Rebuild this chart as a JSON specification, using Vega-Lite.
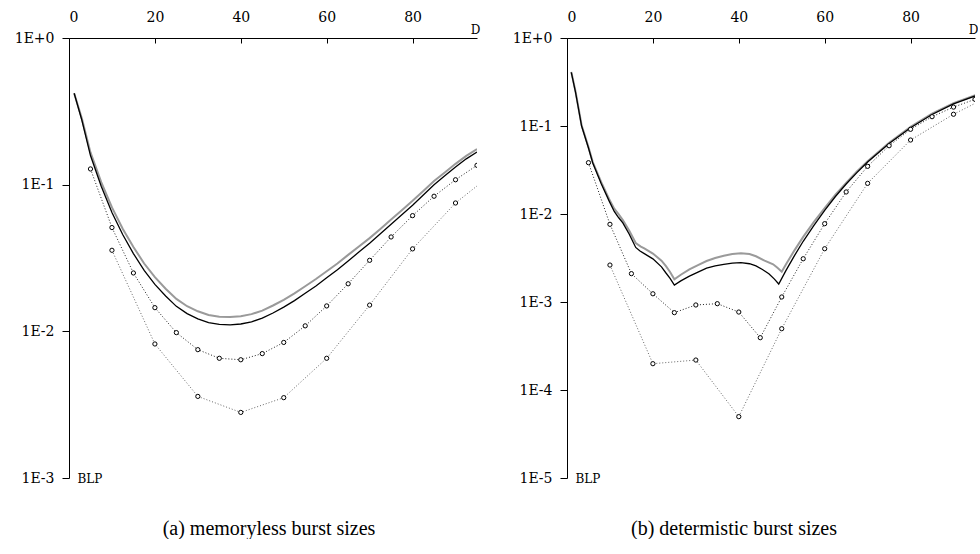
{
  "$schema": "https://vega.github.io/schema/vega-lite/v6.json",
  "background": "white",
  "padding": {"left": 14, "top": 10, "right": 0, "bottom": 0},
  "spacing": 90,
  "bounds": "flush",
  "datasets": {
    "a": [
      {"s":"black","x":1.2,"y":0.42},{"s":"black","x":3,"y":0.275},{"s":"black","x":5,"y":0.158},{"s":"black","x":7.5,"y":0.0977},{"s":"black","x":10,"y":0.0646},{"s":"black","x":12.5,"y":0.0457},{"s":"black","x":15,"y":0.0339},{"s":"black","x":17.5,"y":0.026},{"s":"black","x":20,"y":0.0209},{"s":"black","x":22.5,"y":0.0174},{"s":"black","x":25,"y":0.0148},{"s":"black","x":27.5,"y":0.0132},{"s":"black","x":30,"y":0.01216},{"s":"black","x":32.5,"y":0.01148},{"s":"black","x":35,"y":0.01114},{"s":"black","x":37.5,"y":0.01107},{"s":"black","x":40,"y":0.01122},{"s":"black","x":42.5,"y":0.01161},{"s":"black","x":45,"y":0.0123},{"s":"black","x":47.5,"y":0.01334},{"s":"black","x":50,"y":0.01462},{"s":"black","x":52.5,"y":0.0162},{"s":"black","x":55,"y":0.0182},{"s":"black","x":57.5,"y":0.0204},{"s":"black","x":60,"y":0.0232},{"s":"black","x":62.5,"y":0.0263},{"s":"black","x":65,"y":0.0302},{"s":"black","x":67.5,"y":0.0347},{"s":"black","x":70,"y":0.0398},{"s":"black","x":72.5,"y":0.0462},{"s":"black","x":75,"y":0.0537},{"s":"black","x":77.5,"y":0.0624},{"s":"black","x":80,"y":0.0724},{"s":"black","x":82.5,"y":0.0851},{"s":"black","x":85,"y":0.1},{"s":"black","x":87.5,"y":0.115},{"s":"black","x":90,"y":0.132},{"s":"black","x":92.5,"y":0.15},{"s":"black","x":95,"y":0.167},
      {"s":"gray","x":1.2,"y":0.42},{"s":"gray","x":3,"y":0.282},{"s":"gray","x":5,"y":0.166},{"s":"gray","x":7.5,"y":0.104},{"s":"gray","x":10,"y":0.07},{"s":"gray","x":12.5,"y":0.0501},{"s":"gray","x":15,"y":0.0376},{"s":"gray","x":17.5,"y":0.029},{"s":"gray","x":20,"y":0.0234},{"s":"gray","x":22.5,"y":0.0195},{"s":"gray","x":25,"y":0.01663},{"s":"gray","x":27.5,"y":0.01483},{"s":"gray","x":30,"y":0.0137},{"s":"gray","x":32.5,"y":0.01294},{"s":"gray","x":35,"y":0.01259},{"s":"gray","x":37.5,"y":0.0125},{"s":"gray","x":40,"y":0.01268},{"s":"gray","x":42.5,"y":0.0131},{"s":"gray","x":45,"y":0.01384},{"s":"gray","x":47.5,"y":0.015},{"s":"gray","x":50,"y":0.0164},{"s":"gray","x":52.5,"y":0.01816},{"s":"gray","x":55,"y":0.0203},{"s":"gray","x":57.5,"y":0.02275},{"s":"gray","x":60,"y":0.0257},{"s":"gray","x":62.5,"y":0.029},{"s":"gray","x":65,"y":0.0332},{"s":"gray","x":67.5,"y":0.0379},{"s":"gray","x":70,"y":0.0432},{"s":"gray","x":72.5,"y":0.0499},{"s":"gray","x":75,"y":0.0578},{"s":"gray","x":77.5,"y":0.067},{"s":"gray","x":80,"y":0.0776},{"s":"gray","x":82.5,"y":0.0906},{"s":"gray","x":85,"y":0.106},{"s":"gray","x":87.5,"y":0.121},{"s":"gray","x":90,"y":0.1387},{"s":"gray","x":92.5,"y":0.157},{"s":"gray","x":95,"y":0.175},
      {"s":"sim1","x":5,"y":0.128},{"s":"sim1","x":10,"y":0.051},{"s":"sim1","x":15,"y":0.025},{"s":"sim1","x":20,"y":0.0145},{"s":"sim1","x":25,"y":0.0098},{"s":"sim1","x":30,"y":0.0075},{"s":"sim1","x":35,"y":0.00655},{"s":"sim1","x":40,"y":0.0064},{"s":"sim1","x":45,"y":0.00705},{"s":"sim1","x":50,"y":0.0084},{"s":"sim1","x":55,"y":0.0109},{"s":"sim1","x":60,"y":0.0149},{"s":"sim1","x":65,"y":0.0211},{"s":"sim1","x":70,"y":0.0305},{"s":"sim1","x":75,"y":0.044},{"s":"sim1","x":80,"y":0.0615},{"s":"sim1","x":85,"y":0.0834},{"s":"sim1","x":90,"y":0.108},{"s":"sim1","x":95,"y":0.1355},
      {"s":"sim2","x":10,"y":0.0357},{"s":"sim2","x":20,"y":0.0082},{"s":"sim2","x":30,"y":0.0036},{"s":"sim2","x":40,"y":0.0028},{"s":"sim2","x":50,"y":0.00353},{"s":"sim2","x":60,"y":0.00655},{"s":"sim2","x":70,"y":0.0151},{"s":"sim2","x":80,"y":0.0365},{"s":"sim2","x":90,"y":0.075},{"s":"sim2","x":100,"y":0.128}
    ],
    "b": [
      {"s":"black","x":1,"y":0.407},{"s":"black","x":2,"y":0.24},{"s":"black","x":3.4,"y":0.1},{"s":"black","x":5,"y":0.0562},{"s":"black","x":6,"y":0.038},{"s":"black","x":8,"y":0.0219},{"s":"black","x":9.8,"y":0.0141},{"s":"black","x":11,"y":0.0107},{"s":"black","x":12,"y":0.00912},{"s":"black","x":13,"y":0.00794},{"s":"black","x":14.5,"y":0.00589},{"s":"black","x":16,"y":0.00417},{"s":"black","x":17,"y":0.0038},{"s":"black","x":18,"y":0.00355},{"s":"black","x":20,"y":0.00309},{"s":"black","x":22,"y":0.00251},{"s":"black","x":23,"y":0.00215},{"s":"black","x":24,"y":0.00186},{"s":"black","x":25,"y":0.00156},{"s":"black","x":26.5,"y":0.00174},{"s":"black","x":28.5,"y":0.00197},{"s":"black","x":30.5,"y":0.00219},{"s":"black","x":32.5,"y":0.00242},{"s":"black","x":34.5,"y":0.00257},{"s":"black","x":36.5,"y":0.00268},{"s":"black","x":38.5,"y":0.00277},{"s":"black","x":40.5,"y":0.0028},{"s":"black","x":42.5,"y":0.00272},{"s":"black","x":44,"y":0.00257},{"s":"black","x":45.5,"y":0.00234},{"s":"black","x":47,"y":0.00209},{"s":"black","x":48.3,"y":0.00182},{"s":"black","x":49.3,"y":0.0016},{"s":"black","x":51,"y":0.00229},{"s":"black","x":53,"y":0.00339},{"s":"black","x":55,"y":0.0049},{"s":"black","x":57.5,"y":0.00741},{"s":"black","x":60,"y":0.011},{"s":"black","x":62.5,"y":0.0158},{"s":"black","x":65,"y":0.0219},{"s":"black","x":67.5,"y":0.0295},{"s":"black","x":70,"y":0.0389},{"s":"black","x":75,"y":0.0631},{"s":"black","x":80,"y":0.0955},{"s":"black","x":85,"y":0.135},{"s":"black","x":90,"y":0.178},{"s":"black","x":96,"y":0.229},
      {"s":"gray","x":1,"y":0.412},{"s":"gray","x":2,"y":0.245},{"s":"gray","x":3.4,"y":0.102},{"s":"gray","x":5,"y":0.0575},{"s":"gray","x":6,"y":0.0389},{"s":"gray","x":8,"y":0.0229},{"s":"gray","x":9.8,"y":0.0148},{"s":"gray","x":11,"y":0.0115},{"s":"gray","x":12,"y":0.01},{"s":"gray","x":13,"y":0.00851},{"s":"gray","x":14.5,"y":0.00646},{"s":"gray","x":16,"y":0.00468},{"s":"gray","x":17.2,"y":0.00427},{"s":"gray","x":18,"y":0.00407},{"s":"gray","x":20,"y":0.00355},{"s":"gray","x":22,"y":0.00295},{"s":"gray","x":23,"y":0.00257},{"s":"gray","x":24,"y":0.00219},{"s":"gray","x":25,"y":0.00181},{"s":"gray","x":26.5,"y":0.00204},{"s":"gray","x":28.5,"y":0.00235},{"s":"gray","x":30.5,"y":0.00263},{"s":"gray","x":32.5,"y":0.00292},{"s":"gray","x":34.5,"y":0.00316},{"s":"gray","x":36.5,"y":0.00335},{"s":"gray","x":38.5,"y":0.00351},{"s":"gray","x":40.5,"y":0.00357},{"s":"gray","x":42.5,"y":0.00351},{"s":"gray","x":44,"y":0.00331},{"s":"gray","x":46,"y":0.00295},{"s":"gray","x":48,"y":0.00268},{"s":"gray","x":49,"y":0.00245},{"s":"gray","x":50,"y":0.00221},{"s":"gray","x":51,"y":0.00269},{"s":"gray","x":53,"y":0.00389},{"s":"gray","x":55,"y":0.0055},{"s":"gray","x":57.5,"y":0.00813},{"s":"gray","x":60,"y":0.0117},{"s":"gray","x":62.5,"y":0.0166},{"s":"gray","x":65,"y":0.0226},{"s":"gray","x":67.5,"y":0.0305},{"s":"gray","x":70,"y":0.0398},{"s":"gray","x":75,"y":0.0646},{"s":"gray","x":80,"y":0.0977},{"s":"gray","x":85,"y":0.138},{"s":"gray","x":90,"y":0.182},{"s":"gray","x":96,"y":0.232},
      {"s":"sim1","x":5,"y":0.0383},{"s":"sim1","x":10,"y":0.00764},{"s":"sim1","x":15,"y":0.0021},{"s":"sim1","x":20,"y":0.00124},{"s":"sim1","x":25,"y":0.000757},{"s":"sim1","x":30,"y":0.000925},{"s":"sim1","x":35,"y":0.000957},{"s":"sim1","x":40,"y":0.000769},{"s":"sim1","x":45,"y":0.000393},{"s":"sim1","x":50,"y":0.00114},{"s":"sim1","x":55,"y":0.0031},{"s":"sim1","x":60,"y":0.00776},{"s":"sim1","x":65,"y":0.0178},{"s":"sim1","x":70,"y":0.0348},{"s":"sim1","x":75,"y":0.0597},{"s":"sim1","x":80,"y":0.0917},{"s":"sim1","x":85,"y":0.1276},{"s":"sim1","x":90,"y":0.164},{"s":"sim1","x":95,"y":0.201},
      {"s":"sim2","x":10,"y":0.00263},{"s":"sim2","x":20,"y":0.000199},{"s":"sim2","x":30,"y":0.000219},{"s":"sim2","x":40,"y":0.0000498},{"s":"sim2","x":50,"y":0.000497},{"s":"sim2","x":60,"y":0.00403},{"s":"sim2","x":70,"y":0.0223},{"s":"sim2","x":80,"y":0.0693},{"s":"sim2","x":90,"y":0.136},{"s":"sim2","x":100,"y":0.24}
    ]
  },
  "hconcat": [
    {
      "width": 408, "height": 440,
      "data": {"name": "a"},
      "title": {"text": "(a) memoryless burst sizes", "orient": "bottom", "anchor": "middle", "offset": 34, "dx": -4},
      "encoding": {
        "x": {"field": "x", "type": "quantitative", "scale": {"domain": [0, 95], "nice": false, "zero": false},
              "axis": {"orient": "top", "values": [0, 20, 40, 60, 80], "tickSize": -5, "labelPadding": 19, "title": "D", "titleX": 406, "titleY": -5, "titleAlign": "center", "titleBaseline": "alphabetic", "titleAngle": 0}},
        "y": {"field": "y", "type": "quantitative", "scale": {"type": "log", "domain": [0.001, 1], "nice": false},
              "axis": {"values": [1, 0.1, 0.01, 0.001], "labelExpr": "datum.value >= 1 ? '1E+0' : '1E' + round(log(datum.value)/LN10)", "tickSize": 7, "labelPadding": 8, "title": "BLP", "titleAngle": 0, "titleX": 8, "titleY": 440, "titleAlign": "left", "titleBaseline": "middle"}}
      },
      "layer": [
        {"transform": [{"filter": "datum.s == 'sim2'"}], "mark": {"type": "line", "clip": true, "color": "#666666", "strokeWidth": 1, "strokeDash": [1, 2]}},
        {"transform": [{"filter": "datum.s == 'sim1'"}], "mark": {"type": "line", "clip": true, "color": "#222222", "strokeWidth": 1, "strokeDash": [1, 2]}},
        {"transform": [{"filter": "datum.s == 'gray'"}], "mark": {"type": "line", "clip": true, "color": "#9a9a9a", "strokeWidth": 2}},
        {"transform": [{"filter": "datum.s == 'black'"}], "mark": {"type": "line", "clip": true, "color": "#000000", "strokeWidth": 1.3}},
        {"transform": [{"filter": "datum.s == 'sim1' || datum.s == 'sim2'"}], "mark": {"type": "point", "clip": true, "shape": "circle", "filled": false, "fill": "white", "fillOpacity": 1, "stroke": "black", "strokeWidth": 1, "size": 18, "opacity": 1}}
      ]
    },
    {
      "width": 408, "height": 440,
      "data": {"name": "b"},
      "title": {"text": "(b) determistic burst sizes", "orient": "bottom", "anchor": "middle", "offset": 34, "dx": -37},
      "encoding": {
        "x": {"field": "x", "type": "quantitative", "scale": {"domain": [0, 95], "nice": false, "zero": false},
              "axis": {"orient": "top", "values": [0, 20, 40, 60, 80], "tickSize": -5, "labelPadding": 19, "title": "D", "titleX": 406, "titleY": -5, "titleAlign": "center", "titleBaseline": "alphabetic", "titleAngle": 0}},
        "y": {"field": "y", "type": "quantitative", "scale": {"type": "log", "domain": [0.00001, 1], "nice": false},
              "axis": {"values": [1, 0.1, 0.01, 0.001, 0.0001, 0.00001], "labelExpr": "datum.value >= 1 ? '1E+0' : '1E' + round(log(datum.value)/LN10)", "tickSize": 7, "labelPadding": 8, "title": "BLP", "titleAngle": 0, "titleX": 8, "titleY": 440, "titleAlign": "left", "titleBaseline": "middle"}}
      },
      "layer": [
        {"transform": [{"filter": "datum.s == 'sim2'"}], "mark": {"type": "line", "clip": true, "color": "#666666", "strokeWidth": 1, "strokeDash": [1, 2]}},
        {"transform": [{"filter": "datum.s == 'sim1'"}], "mark": {"type": "line", "clip": true, "color": "#222222", "strokeWidth": 1, "strokeDash": [1, 2]}},
        {"transform": [{"filter": "datum.s == 'gray'"}], "mark": {"type": "line", "clip": true, "color": "#9a9a9a", "strokeWidth": 2}},
        {"transform": [{"filter": "datum.s == 'black'"}], "mark": {"type": "line", "clip": true, "color": "#000000", "strokeWidth": 1.3}},
        {"transform": [{"filter": "datum.s == 'sim1' || datum.s == 'sim2'"}], "mark": {"type": "point", "clip": true, "shape": "circle", "filled": false, "fill": "white", "fillOpacity": 1, "stroke": "black", "strokeWidth": 1, "size": 18, "opacity": 1}}
      ]
    }
  ],
  "config": {
    "view": {"stroke": null},
    "axis": {"grid": false, "labelFont": "DejaVu Serif", "labelFontSize": 14, "labelColor": "#000000", "tickColor": "#000000", "domainColor": "#000000", "domainWidth": 1, "tickWidth": 1, "titleFont": "DejaVu Serif", "titleFontSize": 12, "titleFontWeight": "normal", "titleColor": "#000000"},
    "title": {"font": "Times New Roman, Liberation Serif, serif", "fontSize": 20, "fontWeight": "normal", "color": "#000000"}
  }
}
